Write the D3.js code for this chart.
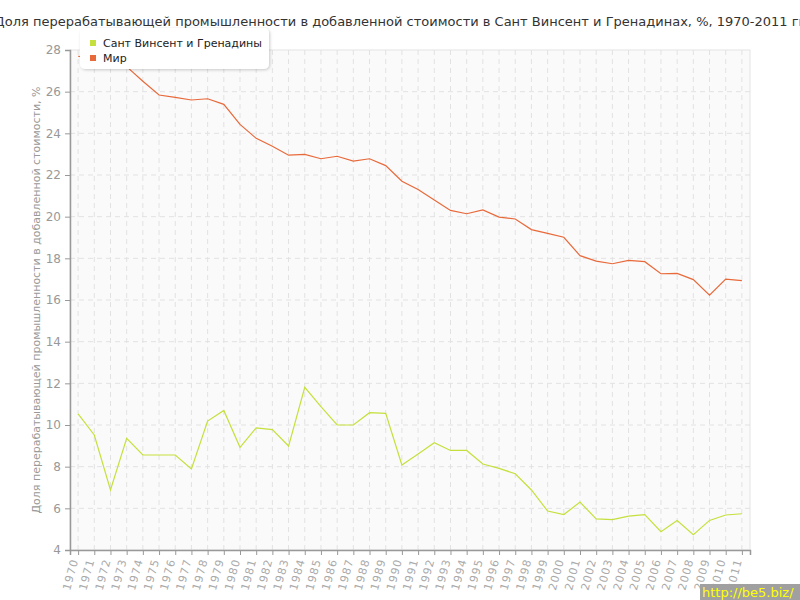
<!DOCTYPE html>
<html>
<head>
<meta charset="utf-8">
<script src="https://cdn.jsdelivr.net/npm/d3@7"></script>
<style>
  body { margin: 0; background: #fff; }
  svg { font-family: "DejaVu Sans", sans-serif; }
</style>
</head>
<body>
<div id="chart"></div>
<script>
const years = d3.range(1970, 2012);

const svgValues = [
  10.53, 9.52, 6.88, 9.36, 8.56, 8.56, 8.56, 7.89, 10.19, 10.7,
  8.93, 9.86, 9.78, 8.99, 11.81, 10.88, 10.0, 10.0, 10.59, 10.56,
  8.08, 8.61, 9.15, 8.78, 8.78, 8.13, 7.92, 7.66, 6.88, 5.87,
  5.7, 6.3, 5.49, 5.46, 5.63, 5.7, 4.88, 5.41, 4.74, 5.42,
  5.68, 5.74
];

const worldValues = [
  27.7, 27.6, 27.5, 27.2, 26.5, 25.84, 25.73, 25.6, 25.66, 25.39,
  24.43, 23.76, 23.38, 22.95, 22.99, 22.78, 22.9, 22.67, 22.78, 22.45,
  21.7, 21.3, 20.8, 20.3, 20.14, 20.32, 19.98, 19.89, 19.38, 19.2,
  19.01, 18.13, 17.87, 17.74, 17.9, 17.84, 17.26, 17.28, 16.98, 16.23,
  17.0, 16.93
];

const yTicks = [4, 6, 8, 10, 12, 14, 16, 18, 20, 22, 24, 26, 28];

const seriesNames = ['Сант Винсент и Гренадины', 'Мир'];
const seriesColors = ['#c5e03c', '#e8693a'];

const title = 'Доля перерабатывающей промышленности в добавленной стоимости в Сант Винсент и Гренадинах, %, 1970-2011 гг';
const yTitle = 'Доля перерабатывающей промышленности в добавленной стоимости, %';

const width = 800;
const height = 600;
const plot = { left: 70, right: 750, top: 50, bottom: 550 };

const svg = d3.select('#chart')
  .append('svg')
  .attr('width', width)
  .attr('height', height);

const defs = svg.append('defs');
const shadow = defs.append('filter').attr('id', 'shadow')
  .attr('x', '-10%').attr('y', '-20%').attr('width', '120%').attr('height', '150%');
shadow.append('feDropShadow')
  .attr('dx', 1).attr('dy', 1).attr('stdDeviation', 1.5)
  .attr('flood-color', '#000').attr('flood-opacity', 0.2);

const x = d3.scalePoint()
  .domain(years)
  .range([plot.left, plot.right])
  .padding(0.5);

const y = d3.scaleLinear()
  .domain([4, 28])
  .range([plot.bottom, plot.top]);

// plot background
svg.append('rect')
  .attr('x', plot.left)
  .attr('y', plot.top)
  .attr('width', plot.right - plot.left)
  .attr('height', plot.bottom - plot.top)
  .attr('fill', '#fafafa')
  .attr('stroke', '#e4e4e4');

// grid
svg.append('g')
  .selectAll('line')
  .data(years)
  .enter()
  .append('line')
  .attr('x1', (d) => x(d))
  .attr('x2', (d) => x(d))
  .attr('y1', plot.top)
  .attr('y2', plot.bottom)
  .attr('stroke', '#e2e2e2')
  .attr('stroke-dasharray', '5,4');

svg.append('g')
  .selectAll('line')
  .data(yTicks.slice(1, -1))
  .enter()
  .append('line')
  .attr('x1', plot.left)
  .attr('x2', plot.right)
  .attr('y1', (d) => y(d))
  .attr('y2', (d) => y(d))
  .attr('stroke', '#e2e2e2')
  .attr('stroke-dasharray', '5,4');

// axes
const yAxis = svg.append('g')
  .attr('transform', `translate(${plot.left},0)`)
  .call(d3.axisLeft(y).tickValues(yTicks).tickSize(5).tickPadding(4));

const xAxis = svg.append('g')
  .attr('transform', `translate(0,${plot.bottom})`)
  .call(d3.axisBottom(x).tickSize(5).tickPadding(4));

[yAxis, xAxis].forEach((g) => {
  g.select('.domain').attr('stroke', '#999').attr('stroke-width', 1.5);
  g.selectAll('.tick line').attr('stroke', '#999');
  g.selectAll('.tick text')
    .attr('fill', '#999')
    .style('font-size', '12px')
    .style('font-family', '"DejaVu Sans", sans-serif');
});

xAxis.selectAll('.tick text')
  .attr('text-anchor', 'end')
  .attr('dy', '0.35em')
  .attr('transform', 'translate(-4,9) rotate(-75)')
  .attr('y', 0)
  .attr('x', 0)
  .style('font-size', '11px')
  .style('letter-spacing', '1px')
  .attr('fill', '#aaa');

// lines
const line = d3.line()
  .x((d, i) => x(years[i]))
  .y((d) => y(d));

[svgValues, worldValues].forEach((vals, i) => {
  svg.append('path')
    .datum(vals)
    .attr('fill', 'none')
    .attr('stroke', seriesColors[i])
    .attr('stroke-width', 1.2)
    .attr('d', line);
});

// title
svg.append('text')
  .attr('x', width / 2)
  .attr('y', 26)
  .attr('text-anchor', 'middle')
  .attr('fill', '#333')
  .style('font-size', '13px')
  .text(title);

// y axis title
svg.append('text')
  .attr('transform', 'translate(40,300) rotate(-90)')
  .attr('text-anchor', 'middle')
  .attr('fill', '#999')
  .style('font-size', '11px')
  .text(yTitle);

// legend
const legend = svg.append('g');
legend.append('rect')
  .attr('x', 80)
  .attr('y', 28)
  .attr('width', 189)
  .attr('height', 41)
  .attr('rx', 5)
  .attr('fill', '#fff')
  .attr('filter', 'url(#shadow)');

seriesNames.forEach((name, i) => {
  legend.append('rect')
    .attr('x', 90)
    .attr('y', 40 + i * 15)
    .attr('width', 6)
    .attr('height', 6)
    .attr('fill', seriesColors[i]);
  legend.append('text')
    .attr('x', 103)
    .attr('y', 47 + i * 15)
    .attr('fill', '#222')
    .style('font-size', '11px')
    .text(name);
});

// watermark
svg.append('rect')
  .attr('x', 700)
  .attr('y', 584)
  .attr('width', 100)
  .attr('height', 16)
  .attr('fill', '#a0a0a0');
svg.append('text')
  .attr('x', 702)
  .attr('y', 597)
  .attr('fill', '#ffff00')
  .style('font-size', '13px')
  .text('http://be5.biz/');
</script>
</body>
</html>
